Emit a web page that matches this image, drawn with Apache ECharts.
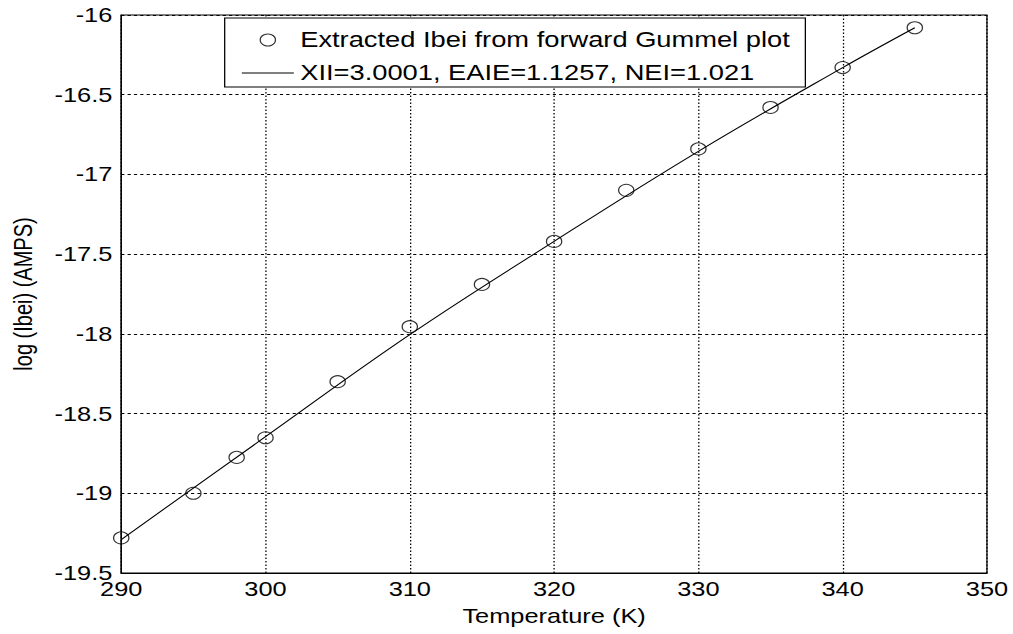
<!DOCTYPE html>
<html>
<head>
<meta charset="utf-8">
<script src="https://cdn.jsdelivr.net/npm/echarts@6/dist/echarts.min.js"></script>
<style>
  html, body { margin: 0; padding: 0; background: #fff; overflow: hidden; }
  #wrap { position: absolute; left: 0; top: 0; width: 1013px; height: 634px; overflow: hidden; }
  #chart { position: absolute; left: 0; top: 0; width: 798px; height: 634px;
           transform: scaleX(1.2694); transform-origin: 0 0; }
</style>
</head>
<body>
<div id="wrap"><div id="chart"></div></div>
<script>
// ---- data ----
const temperatures = [290, 295, 298, 300, 305, 310, 315, 320, 325, 330, 335, 340, 345];
const extractedLogIbei = [-19.28, -19.00, -18.775, -18.652, -18.30, -17.955, -17.69, -17.42, -17.10, -16.84, -16.58, -16.33, -16.08];
const fitTemperatures = [290, 300, 310, 320, 330, 340, 345];
const fitLogIbei = [-19.29, -18.645, -18.005, -17.42, -16.855, -16.33, -16.08];
const seriesNames = ['Extracted Ibei from forward Gummel plot', 'XII=3.0001, EAIE=1.1257, NEI=1.021'];
const xAxisTitle = 'Temperature (K)';
const yAxisTitle = 'log (Ibei) (AMPS)';

const FONT = '"Liberation Sans", Arial, sans-serif';
const chart = echarts.init(document.getElementById('chart'), null, { renderer: 'svg' });

chart.setOption({
  animation: false,
  backgroundColor: '#fff',
  textStyle: { fontFamily: FONT, color: '#000' },
  grid: { left: 93.7, right: 20.5, top: 15, bottom: 61, show: true, borderColor: '#000', borderWidth: 1, backgroundColor: 'transparent' },
  legend: {
    orient: 'vertical',
    left: 177, top: 18,
    backgroundColor: '#fff',
    borderColor: '#000', borderWidth: 1, borderRadius: 0,
    padding: [10, 12, 2, 13],
    itemGap: 9,
    itemWidth: 41, itemHeight: 12,
    textStyle: { fontFamily: FONT, fontSize: 21.5, color: '#000', lineHeight: 24 },
    data: [
      { name: seriesNames[0], icon: 'circle', itemStyle: { color: 'rgba(0,0,0,0)', borderColor: '#000', borderWidth: 1 } },
      { name: seriesNames[1], itemStyle: { opacity: 0 }, lineStyle: { color: '#000', width: 1, opacity: 1 } }
    ]
  },
  xAxis: {
    type: 'value', min: 290, max: 350, interval: 10,
    name: xAxisTitle, nameLocation: 'middle', nameGap: 33,
    nameTextStyle: { fontFamily: FONT, fontSize: 20, color: '#000' },
    axisLine: { show: true, onZero: false, lineStyle: { color: '#000', width: 1 } },
    axisTick: { show: false },
    axisLabel: { fontFamily: FONT, fontSize: 20, color: '#000', margin: 6 },
    splitLine: { show: true, lineStyle: { color: '#000', width: 1, type: [1.5, 2] } }
  },
  yAxis: {
    type: 'value', min: -19.5, max: -16, interval: 0.5,
    name: yAxisTitle, nameLocation: 'middle', nameGap: 67.5, nameRotate: 90,
    nameTextStyle: { fontFamily: FONT, fontSize: 20, color: '#000' },
    axisLine: { show: true, onZero: false, lineStyle: { color: '#000', width: 1 } },
    axisTick: { show: false },
    axisLabel: { fontFamily: FONT, fontSize: 20, color: '#000', margin: 7 },
    splitLine: { show: true, lineStyle: { color: '#000', width: 1, type: [2.5, 2.5] } }
  },
  series: [
    {
      name: seriesNames[0],
      type: 'scatter',
      data: temperatures.map((t, i) => [t, extractedLogIbei[i]]),
      symbol: 'circle',
      symbolSize: 12,
      itemStyle: { color: 'rgba(0,0,0,0)', borderColor: '#000', borderWidth: 1 },
      z: 3
    },
    {
      name: seriesNames[1],
      type: 'line',
      data: fitTemperatures.map((t, i) => [t, fitLogIbei[i]]),
      symbol: 'none',
      showSymbol: false,
      smooth: 0.4,
      lineStyle: { color: '#000', width: 1 },
      itemStyle: { color: '#000' },
      z: 4
    }
  ]
});
</script>
</body>
</html>
